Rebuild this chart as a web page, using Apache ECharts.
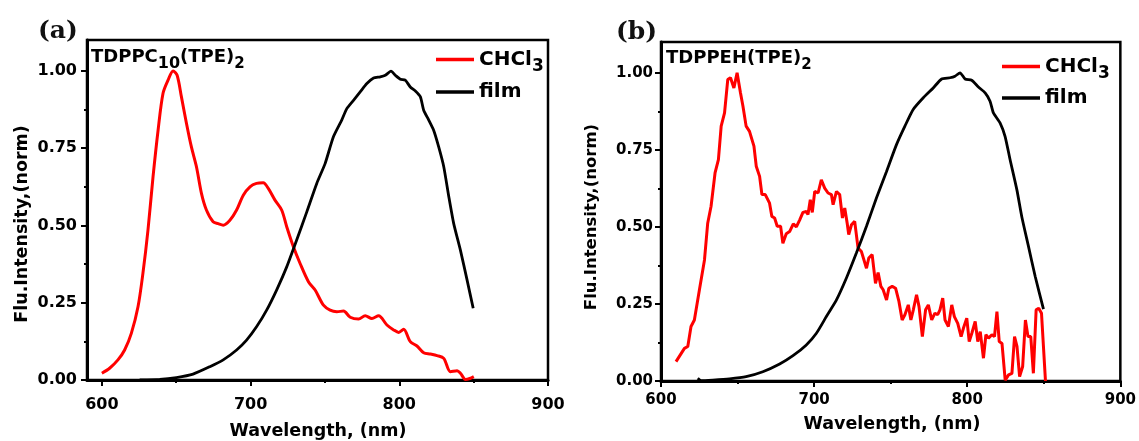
<!DOCTYPE html>
<html>
<head>
<meta charset="utf-8">
<script src="https://cdn.jsdelivr.net/npm/echarts@6.0.0/dist/echarts.min.js"></script>
<style>
  html, body { margin: 0; padding: 0; background: #fff; }
  #chart { width: 1139px; height: 441px; }
</style>
</head>
<body>
<div id="chart"></div>
<script>
// Panel (a): TDPPC10(TPE)2 — solution (CHCl3) emission
const aSolWl = [600, 605.2, 610.8, 615.3, 619.8, 624.3, 627.6, 631, 634.4, 637.8, 641.1, 644.5, 647.9, 650.6,
  653.5, 656.9, 660.2, 663.6, 667, 670.3, 674.8, 678.2, 681.6, 686.1, 690.6, 695.1, 699.6, 704, 708.5, 711.9,
  716.4, 720.9, 724.3, 728.8, 733.3, 738.9, 743.4, 749, 753.5, 758, 762.5, 767, 772.6, 777.1, 781.6, 786.1,
  791.7, 796.2, 799.6, 802.9, 807.4, 811.9, 816.4, 820.9, 825.4, 829.9, 834.4, 838.9, 841.1, 844.5, 847.4, 850.1];
const aSolInt = [0.022, 0.038, 0.065, 0.097, 0.151, 0.237, 0.345, 0.485, 0.657, 0.808, 0.927, 0.97, 1.0, 0.986,
  0.916, 0.83, 0.754, 0.69, 0.603, 0.55, 0.512, 0.506, 0.501, 0.517, 0.55, 0.598, 0.625, 0.636, 0.638, 0.62,
  0.582, 0.55, 0.496, 0.431, 0.377, 0.318, 0.291, 0.242, 0.226, 0.221, 0.223, 0.203, 0.197, 0.208, 0.199, 0.208,
  0.178, 0.162, 0.154, 0.164, 0.124, 0.11, 0.088, 0.084, 0.079, 0.07, 0.027, 0.03, 0.022, 0.002, 0.005, 0.011];

// Panel (a): film emission
const aFilmWl = [625.4, 638.9, 650.1, 661.3, 672.6, 681.6, 690.6, 697.3, 704, 710.8, 717.5, 724.3, 731, 737.8,
  744.5, 750.1, 755.7, 761.3, 764.7, 769.2, 773.7, 778.2, 782.7, 787.2, 790.6, 794.4, 797.3, 800.7, 804, 807.4,
  810.8, 814.2, 816.4, 819.8, 823.1, 826.5, 829.9, 833.3, 836.6, 841.1, 845.6, 849.7];
const aFilmInt = [0.0, 0.002, 0.008, 0.019, 0.043, 0.065, 0.097, 0.129, 0.172, 0.226, 0.291, 0.366, 0.453, 0.544,
  0.636, 0.70, 0.787, 0.841, 0.878, 0.905, 0.932, 0.959, 0.977, 0.981, 0.986, 0.999, 0.986, 0.973, 0.97, 0.948,
  0.935, 0.916, 0.873, 0.841, 0.808, 0.754, 0.69, 0.593, 0.506, 0.42, 0.323, 0.232];

// Panel (b): TDPPEH(TPE)2 — solution (CHCl3) emission
const bSolWl = [609.8, 615.3, 617.5, 619.6, 621.8, 625.1, 628.4, 630.5, 632.7, 635.3, 637.5, 639.3, 641.5, 643.6,
  645.4, 647.6, 649.7, 651.9, 653.5, 655.6, 657.8, 660.7, 662.2, 664.4, 665.9, 668.1, 670.9, 672.4, 674.2, 675.9,
  678.1, 679.6, 681.8, 684, 686.4, 688.4, 690.6, 692.7, 694.9, 696, 697.5, 698.8, 700.4, 702.6, 704.7, 706.9,
  709.1, 711.3, 712.4, 714.6, 716.7, 718.5, 720, 721.6, 722.6, 724.4, 726.5, 728.7, 730.9, 732, 734.2, 735.7,
  737.9, 740.1, 741.8, 743.6, 745.1, 747.3, 748.8, 751, 753.2, 755.4, 757.5, 759.3, 761.5, 763.2, 764.8, 766.9,
  768.5, 770.7, 772.8, 774.6, 776.8, 778.9, 780.7, 782.2, 784, 785.5, 787.7, 789.9, 791.6, 793.8, 796, 797.5,
  799.7, 801.3, 803, 805.2, 806.9, 808.5, 810.6, 812.2, 813.9, 816.1, 817.8, 819.4, 820.9, 822.7, 824.8, 827,
  829.2, 830.9, 832.5, 834.2, 836.2, 838, 839.7, 841.5, 843.2, 845, 846.7, 848.5, 851.1];
const bSolInt = [0.063, 0.106, 0.112, 0.177, 0.198, 0.296, 0.393, 0.512, 0.567, 0.675, 0.718, 0.827, 0.87, 0.978,
  0.984, 0.951, 1.0, 0.935, 0.892, 0.827, 0.81, 0.762, 0.697, 0.664, 0.605, 0.605, 0.577, 0.534, 0.529, 0.502,
  0.502, 0.447, 0.478, 0.485, 0.51, 0.5, 0.523, 0.547, 0.55, 0.54, 0.588, 0.547, 0.615, 0.61, 0.653, 0.626,
  0.61, 0.605, 0.572, 0.615, 0.605, 0.529, 0.561, 0.512, 0.475, 0.507, 0.518, 0.431, 0.42, 0.415, 0.366, 0.399,
  0.41, 0.317, 0.352, 0.307, 0.296, 0.263, 0.301, 0.307, 0.301, 0.258, 0.198, 0.215, 0.247, 0.198, 0.231, 0.28,
  0.242, 0.144, 0.231, 0.247, 0.198, 0.22, 0.215, 0.231, 0.269, 0.198, 0.177, 0.247, 0.209, 0.187, 0.144, 0.171,
  0.204, 0.128, 0.155, 0.193, 0.128, 0.16, 0.074, 0.15, 0.139, 0.15, 0.144, 0.225, 0.128, 0.122, 0.003, 0.02,
  0.025, 0.144, 0.112, 0.014, 0.047, 0.198, 0.144, 0.144, 0.025, 0.231, 0.236, 0.22, 0.0];

// Panel (b): film emission
const bFilmWl = [624, 626.2, 633.8, 644.7, 655.6, 666.5, 677.5, 686.2, 694.9, 701.5, 708, 714.6, 721.1, 727.6,
  734.2, 740.7, 747.3, 753.8, 759.3, 764.7, 771.3, 777.8, 783.3, 788.7, 792, 795.3, 798.6, 802.9, 807.3, 811.7,
  814.9, 817.1, 821.5, 824.7, 828, 832.4, 835.6, 840, 844.4, 849.8];
const bFilmInt = [0.009, 0.001, 0.003, 0.007, 0.014, 0.03, 0.055, 0.082, 0.117, 0.155, 0.209, 0.263, 0.334, 0.415,
  0.502, 0.594, 0.68, 0.767, 0.827, 0.881, 0.919, 0.951, 0.98, 0.984, 0.989, 1.0, 0.98, 0.976, 0.954, 0.935,
  0.908, 0.87, 0.837, 0.794, 0.718, 0.621, 0.534, 0.437, 0.339, 0.233];

// Tick positions
const xMajorTicks = [600, 700, 800, 900];
const xMinorTicks = [650, 750, 850];
const yMajorTicks = [0, 0.25, 0.5, 0.75, 1.0];
const yMinorTicks = [0.125, 0.375, 0.625, 0.875];

const FONT = 'DejaVu Sans';
const RED = '#ff0000';
const BLACK = '#000000';

function pairs(xs, ys) { return xs.map((x, i) => [x, ys[i]]); }

function labelStyle(size) {
  return { color: '#000', fontFamily: FONT, fontWeight: 'bold', fontSize: size };
}

function xAxes(gridIndex, xMin, margin, size) {
  return [
    {
      gridIndex, type: 'value', min: xMin, max: 900, position: 'bottom',
      axisLine: { show: true, onZero: false, lineStyle: { color: '#000', width: 3 } },
      axisTick: { show: true, inside: false, length: 6, customValues: xMajorTicks, lineStyle: { color: '#000', width: 2 } },
      axisLabel: Object.assign({ show: true, margin, customValues: xMajorTicks }, labelStyle(size)),
      splitLine: { show: false }
    },
    {
      gridIndex, type: 'value', min: xMin, max: 900, position: 'bottom', offset: 0,
      axisLine: { show: false },
      axisTick: { show: true, inside: false, length: 3, customValues: xMinorTicks, lineStyle: { color: '#000', width: 2 } },
      axisLabel: { show: false },
      splitLine: { show: false }
    }
  ];
}

function yAxes(gridIndex, margin, size) {
  return [
    {
      gridIndex, type: 'value', min: 0, max: 1.1, position: 'left',
      axisLine: { show: true, onZero: false, lineStyle: { color: '#000', width: 3 } },
      axisTick: { show: true, inside: false, length: 6, customValues: yMajorTicks, lineStyle: { color: '#000', width: 2 } },
      axisLabel: Object.assign({ show: true, margin, customValues: yMajorTicks, formatter: v => v.toFixed(2) }, labelStyle(size)),
      splitLine: { show: false }
    },
    {
      gridIndex, type: 'value', min: 0, max: 1.1, position: 'left', offset: 0,
      axisLine: { show: false },
      axisTick: { show: true, inside: false, length: 3, customValues: yMinorTicks, lineStyle: { color: '#000', width: 2 } },
      axisLabel: { show: false },
      splitLine: { show: false }
    }
  ];
}

// Rich-text styles: "m" main text, "s"/"t" lowered subscripts
const insetRich = {
  m: { fontFamily: FONT, fontWeight: 'bold', fontSize: 18, color: '#000', lineHeight: 22, verticalAlign: 'middle' },
  s: { fontFamily: FONT, fontWeight: 'bold', fontSize: 16, color: '#000', lineHeight: 22, padding: [14, 0, 0, 0], verticalAlign: 'middle' },
  t: { fontFamily: FONT, fontWeight: 'bold', fontSize: 15, color: '#000', lineHeight: 22, padding: [14, 0, 0, 0], verticalAlign: 'middle' }
};
const legendRich = {
  m: { fontFamily: FONT, fontWeight: 'bold', fontSize: 20, color: '#000', lineHeight: 24, verticalAlign: 'middle' },
  t: { fontFamily: FONT, fontWeight: 'bold', fontSize: 17, color: '#000', lineHeight: 24, padding: [14, 0, 0, 0], verticalAlign: 'middle' }
};

function legendFor(left, top, gap) {
  return {
    orient: 'vertical', left, top, padding: 0, itemGap: gap,
    icon: 'rect', itemWidth: 38, itemHeight: 3.5, selectedMode: false,
    data: ['CHCl3', 'film'],
    formatter: name => name === 'CHCl3' ? '{m|CHCl}{t|3}' : '{m|film}',
    textStyle: { fontFamily: FONT, fontWeight: 'bold', fontSize: 20, color: '#000', rich: legendRich }
  };
}

const panelTitle = { fontFamily: 'DejaVu Serif', fontWeight: 'bold', fontSize: 25, color: '#111' };

function axisTitle(x, y, text, size, vertical) {
  return {
    type: 'text', x, y, rotation: vertical ? Math.PI / 2 : 0,
    style: {
      text, font: 'bold ' + size + 'px "DejaVu Sans"', fill: '#000',
      align: 'center', verticalAlign: 'middle', textAlign: 'center', textVerticalAlign: 'middle'
    }
  };
}

function line(name, data, color, xi, yi, width, smooth) {
  return {
    name, type: 'line', data, xAxisIndex: xi, yAxisIndex: yi,
    showSymbol: false, symbol: 'none', smooth,
    lineStyle: { color, width }, itemStyle: { color },
    animation: false
  };
}

const chart = echarts.init(document.getElementById('chart'), null, { renderer: 'canvas' });

chart.setOption({
  backgroundColor: '#fff',
  animation: false,
  grid: [
    { left: 87, top: 40, width: 461, height: 340, show: true, borderColor: '#000', borderWidth: 2.5, backgroundColor: 'transparent' },
    { left: 661, top: 42, width: 461, height: 339, show: true, borderColor: '#000', borderWidth: 2.5, backgroundColor: 'transparent' }
  ],
  xAxis: [...xAxes(0, 590, 17, 16), ...xAxes(1, 600, 12, 15)],
  yAxis: [...yAxes(0, 10, 16), ...yAxes(1, 8, 15)],
  title: [
    { text: '(a)', left: 38, top: 19, padding: 0, textStyle: panelTitle },
    { text: '(b)', left: 616, top: 20, padding: 0, textStyle: panelTitle },
    { text: '{m|TDPPC}{s|10}{m|(TPE)}{t|2}', left: 91, top: 46, padding: 0, textStyle: { rich: insetRich } },
    { text: '{m|TDPPEH(TPE)}{t|2}', left: 666, top: 47, padding: 0, textStyle: { rich: insetRich } }
  ],
  legend: [legendFor(436, 44, 7), legendFor(1002, 51, 6)],
  graphic: [
    axisTitle(318, 431, 'Wavelength, (nm)', 17.5, false),
    axisTitle(892, 424, 'Wavelength, (nm)', 17.5, false),
    axisTitle(22, 224, 'Flu.Intensity,(norm)', 17.5, true),
    axisTitle(592, 217, 'Flu.Intensity,(norm)', 16.5, true)
  ],
  series: [
    line('CHCl3', pairs(aSolWl, aSolInt), RED, 0, 0, 3, 0.3),
    line('film', pairs(aFilmWl, aFilmInt), BLACK, 0, 0, 2.8, 0.2),
    line('CHCl3', pairs(bSolWl, bSolInt), RED, 2, 2, 3, false),
    line('film', pairs(bFilmWl, bFilmInt), BLACK, 2, 2, 2.8, 0.2)
  ]
});
</script>
</body>
</html>
